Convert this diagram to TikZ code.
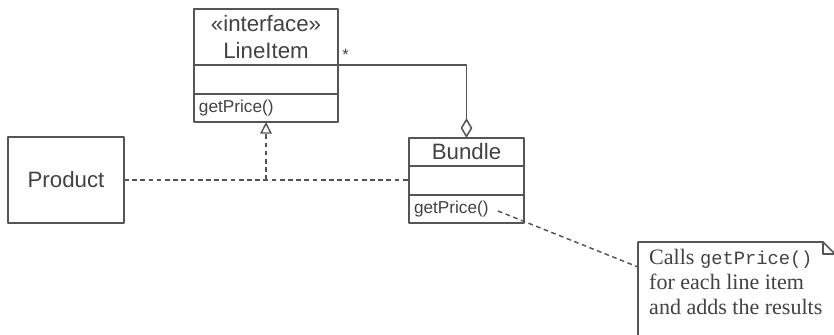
\documentclass[tikz,border=0pt]{standalone}
\usepackage{fontspec}
\setmainfont{Liberation Serif}
\setsansfont{Liberation Sans}
\setmonofont{Liberation Mono}
\usetikzlibrary{arrows.meta}
\usetikzlibrary{positioning}
\usetikzlibrary{calc}
\definecolor{umlline}{HTML}{555555}
\definecolor{umltext}{HTML}{424242}

\begin{document}
\begin{tikzpicture}[x=0.03cm, y=-0.03cm, line cap=round, line join=round,
		box/.style={draw=umlline, line width=1.3pt, text=umltext, inner sep=0pt, outer sep=0pt},
		namebox/.style={box, align=center, font=\sffamily\fontsize{19}{23}\selectfont},
		opsbox/.style={box, align=left, inner xsep=0.15cm, font=\sffamily\fontsize{14.7}{17}\selectfont},
		realize/.style={draw=umlline, line width=1.2pt, dash pattern=on 4pt off 3pt, line cap=butt},
		assoc/.style={draw=umlline, line width=1.3pt},
		mult/.style={text=umltext, font=\sffamily\fontsize{14}{16}\selectfont, inner sep=3pt},
		notebox/.style={draw=umlline, line width=1.3pt},
		notetext/.style={text=umltext, align=left, inner sep=0pt, font=\rmfamily\fontsize{18.8}{21.3}\selectfont}]
		\useasboundingbox (0,0) rectangle (834,335);
		\node[namebox, minimum width=4.32cm, minimum height=1.68cm] (lineitem) at (266,37) {«interface»\\LineItem};
		\node[box, below=0pt of lineitem, minimum width=4.32cm, minimum height=0.87cm] (lineitem-attr) {};
		\node[opsbox, below=0pt of lineitem-attr, minimum height=0.84cm, text width=4.02cm] (lineitem-ops) {getPrice()};
		\node[namebox, minimum width=3.45cm, minimum height=0.84cm] (bundle) at (466.5,152) {Bundle};
		\node[box, below=0pt of bundle, minimum width=3.45cm, minimum height=0.87cm] (bundle-attr) {};
		\node[opsbox, below=0pt of bundle-attr, minimum height=0.84cm, text width=3.15cm] (bundle-ops) {getPrice()};
		\node[namebox, minimum width=3.48cm, minimum height=2.58cm] (product) at (66,180) {Product};
		\draw[assoc, -{Diamond[open, length=17pt, width=10pt]}] (lineitem.south east) node[mult, anchor=south west] (many) {*} -| (bundle.north);
		\draw[realize] (product.east) -- (product.east -| bundle-attr.west);
		\draw[realize, -{Triangle[open, length=10pt, width=10pt, line cap=round]}] (product.east -| lineitem-ops.south) -- (lineitem-ops.south);
		\node[notetext, anchor=north west] (note) at (649,249) {Calls {\ttfamily\fontsize{16}{21.3}\selectfont getPrice()}\\for each line item\\and adds the results};
		\draw[notebox] (638,345) -- (638,242) -- (823,242) -- (835,254) -- (835,345);
		\draw[notebox] (823,242) -- (823,254) -- (835,254);
		\coordinate (callsite) at (498,211);
		\coordinate (notein) at (638,267);
		\draw[realize] (callsite) -- (notein);
	\end{tikzpicture}
\end{document}
